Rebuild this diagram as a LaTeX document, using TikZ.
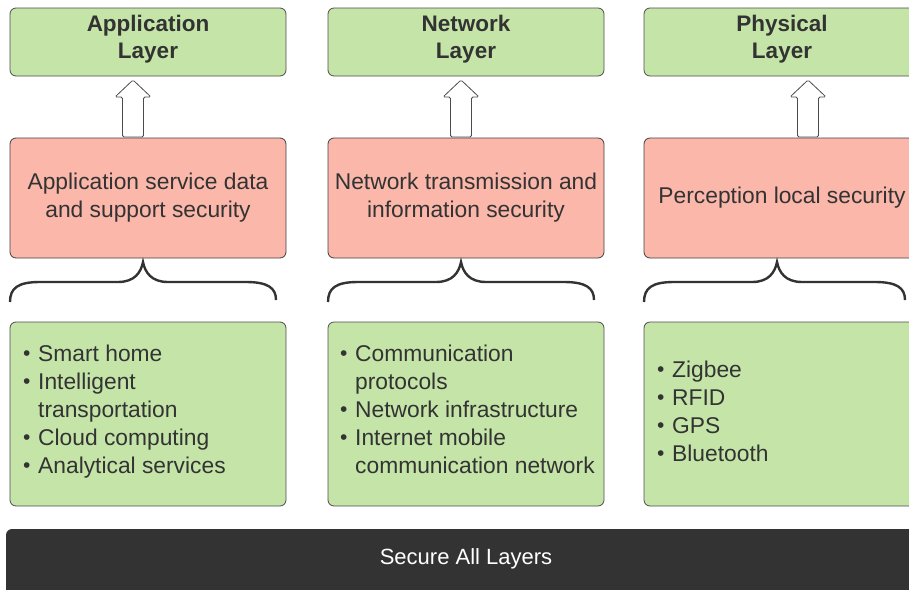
\documentclass[tikz,border=0pt]{standalone}
\usepackage{fontspec}
\setmainfont{Liberation Sans}
\begin{document}
\begin{tikzpicture}[x=1pt,y=-1pt,
  greenbox/.style={draw=black!70,fill=greenfill,rounded corners=6pt,line width=0.8pt},
  pinkbox/.style={draw=black!75,fill=pinkfill,rounded corners=6pt,line width=0.8pt},
  txt/.style={text=textgray,font=\fontsize{22.8}{28}\selectfont,inner sep=0pt},
  ttl/.style={text=textgray,font=\fontsize{22.5}{27}\selectfont\bfseries,inner sep=0pt,align=center},
  bracestyle/.style={draw=textgray,line width=2.4pt},
  blockarrow/.style={draw=black!70,fill=white,line width=0.8pt}]
\definecolor{greenfill}{HTML}{C5E5A8}
\definecolor{pinkfill}{HTML}{FBB7AA}
\definecolor{textgray}{HTML}{333333}
\definecolor{barfill}{HTML}{333333}
\useasboundingbox (0,0) rectangle (909,589);
\begin{scope}
\clip (0,0) rectangle (909,589);
% top title boxes
\draw[greenbox] (10,8) rectangle (286,76);
\draw[greenbox] (328,8) rectangle (604,76);
\draw[greenbox] (644,8) rectangle (920,76);
\node[ttl] (t1) at (148,39) {Application\\Layer};
\node[ttl] (t2) at (466,39) {Network\\Layer};
\node[ttl] (t3) at (782,39) {Physical\\Layer};
% pink boxes
\draw[pinkbox] (10,138) rectangle (286,258);
\draw[pinkbox] (328,138) rectangle (604,258);
\draw[pinkbox] (644,138) rectangle (920,258);
\node[txt,align=center] (p1) at (148,198) {Application service data\\and support security};
\node[txt,align=center] (p2) at (466,198) {Network transmission and\\information security};
\node[txt,align=center] (p3) at (782,198) {Perception local security};
% block arrows
\foreach \cx in {133,461,808}{
  \draw[blockarrow,rounded corners=1.5pt] (\cx-10.5,137) -- (\cx-10.5,97) -- (\cx-18,97) -- (\cx,80) -- (\cx+18,97) -- (\cx+10.5,97) -- (\cx+10.5,137) -- cycle;
}
% braces
\foreach \a/\m/\b in {10/143/276,328/461/594,644/777/905}{
  \draw[bracestyle] (\a,302) .. controls (\a,288) and (\a+8,282) .. (\a+30,282)
     -- (\m-25,282) .. controls (\m-8,282) and (\m-2,272) .. (\m,262)
     .. controls (\m+2,272) and (\m+8,282) .. (\m+25,282)
     -- (\b-30,282) .. controls (\b-8,282) and (\b,288) .. (\b,300);
}
% bottom lists
\draw[greenbox] (10,322) rectangle (286,506);
\draw[greenbox] (328,322) rectangle (604,506);
\draw[greenbox] (644,322) rectangle (920,506);
\newcommand{\itm}{\makebox[11.5pt][l]{\hspace*{-3.5pt}\fontsize{21}{21}\selectfont\raisebox{1pt}{•}}}
\newcommand{\cnt}{\hspace*{11.5pt}}
\node[txt,align=left,anchor=west] (l1) at (26.5,412) {\itm Smart home\\\itm Intelligent\\\cnt transportation\\\itm Cloud computing\\\itm Analytical services};
\node[txt,align=left,anchor=west] (l2) at (343.5,409) {\itm Communication\\\cnt protocols\\\itm Network infrastructure\\\itm Internet mobile\\\cnt communication network};
\node[txt,align=left,anchor=west] (l3) at (660.5,411) {\itm Zigbee\\\itm RFID\\\itm GPS\\\itm Bluetooth};
% bottom bar
\fill[barfill,rounded corners=6pt] (6,529) rectangle (930,600);
\node[text=white,font=\fontsize{22}{26}\selectfont,inner sep=0pt] (bar) at (466,559) {Secure All Layers};
\end{scope}
\end{tikzpicture}
\end{document}
